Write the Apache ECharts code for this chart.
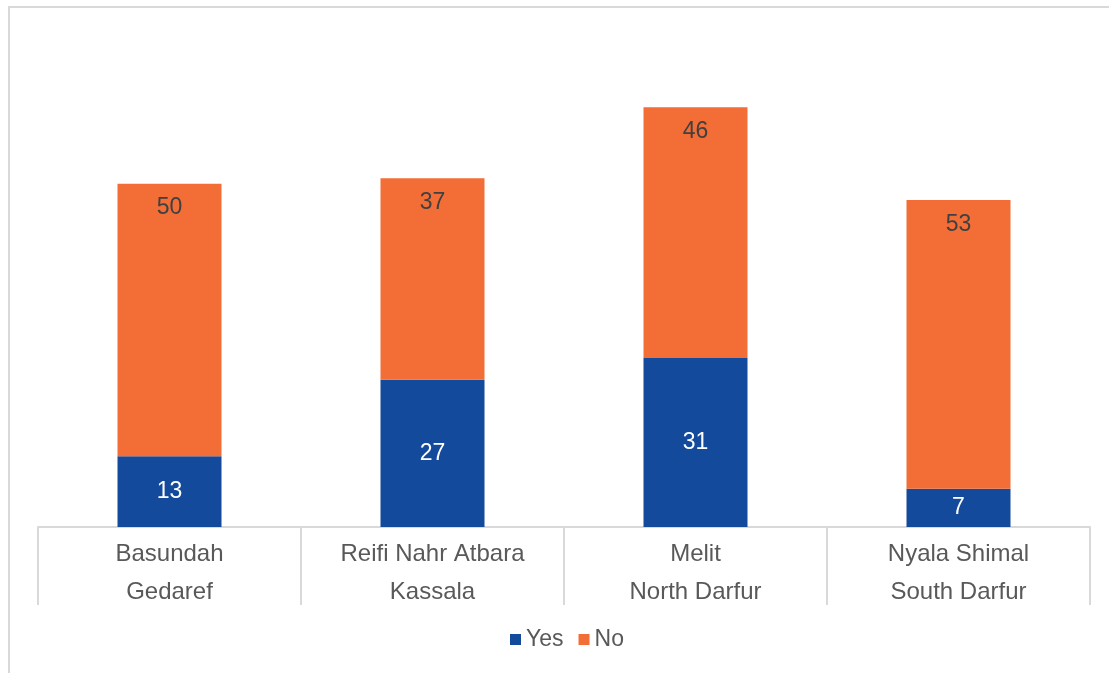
<!DOCTYPE html>
<html>
<head>
<meta charset="utf-8">
<script src="https://cdn.jsdelivr.net/npm/echarts@6/dist/echarts.min.js"></script>
<style>
  html, body { margin: 0; padding: 0; background: #ffffff; }
  #chart { width: 1109px; height: 673px; }
</style>
</head>
<body>
<div id="chart"></div>
<script>
// Localities (first line) and their states (second line)
const categories = [
  'Basundah\nGedaref',
  'Reifi Nahr Atbara\nKassala',
  'Melit\nNorth Darfur',
  'Nyala Shimal\nSouth Darfur'
];
const yesValues = [13, 27, 31, 7];
const noValues = [50, 37, 46, 53];

const FONT = '"Liberation Sans", Arial, Helvetica, sans-serif';
const chart = echarts.init(document.getElementById('chart'));

chart.setOption({
  animation: false,
  textStyle: { fontFamily: FONT },
  graphic: [{
    type: 'rect',
    shape: { x: 9, y: 7, width: 1300, height: 900 },
    style: { fill: 'none', stroke: '#d9d9d9', lineWidth: 2 },
    silent: true
  }],
  grid: { left: 38, right: 19, top: 91, bottom: 146 },
  legend: {
    left: 505,
    top: 623,
    itemWidth: 11,
    itemHeight: 11,
    itemGap: 15,
    icon: 'rect',
    textStyle: { fontFamily: FONT, fontSize: 23, color: '#595959' },
    data: ['Yes', 'No']
  },
  xAxis: {
    type: 'category',
    data: categories,
    axisLine: { lineStyle: { color: '#d9d9d9', width: 2 } },
    axisTick: { show: true, length: 78, interval: 0, lineStyle: { color: '#d9d9d9', width: 2 } },
    axisLabel: {
      interval: 0,
      margin: 8,
      fontFamily: FONT,
      fontSize: 24,
      lineHeight: 38,
      color: '#595959'
    }
  },
  yAxis: {
    type: 'value',
    min: 0,
    max: 80,
    show: false,
    splitLine: { show: false }
  },
  series: [
    {
      name: 'Yes',
      type: 'bar',
      stack: 'total',
      barWidth: 104,
      data: yesValues,
      itemStyle: { color: '#134a9c' },
      label: {
        show: true,
        position: 'inside',
        fontFamily: FONT,
        fontSize: 23,
        color: '#ffffff'
      }
    },
    {
      name: 'No',
      type: 'bar',
      stack: 'total',
      barWidth: 104,
      data: noValues,
      itemStyle: { color: '#f26e36' },
      label: {
        show: true,
        position: 'insideTop',
        distance: 13,
        fontFamily: FONT,
        fontSize: 23,
        color: '#404040'
      }
    }
  ]
});
</script>
</body>
</html>
